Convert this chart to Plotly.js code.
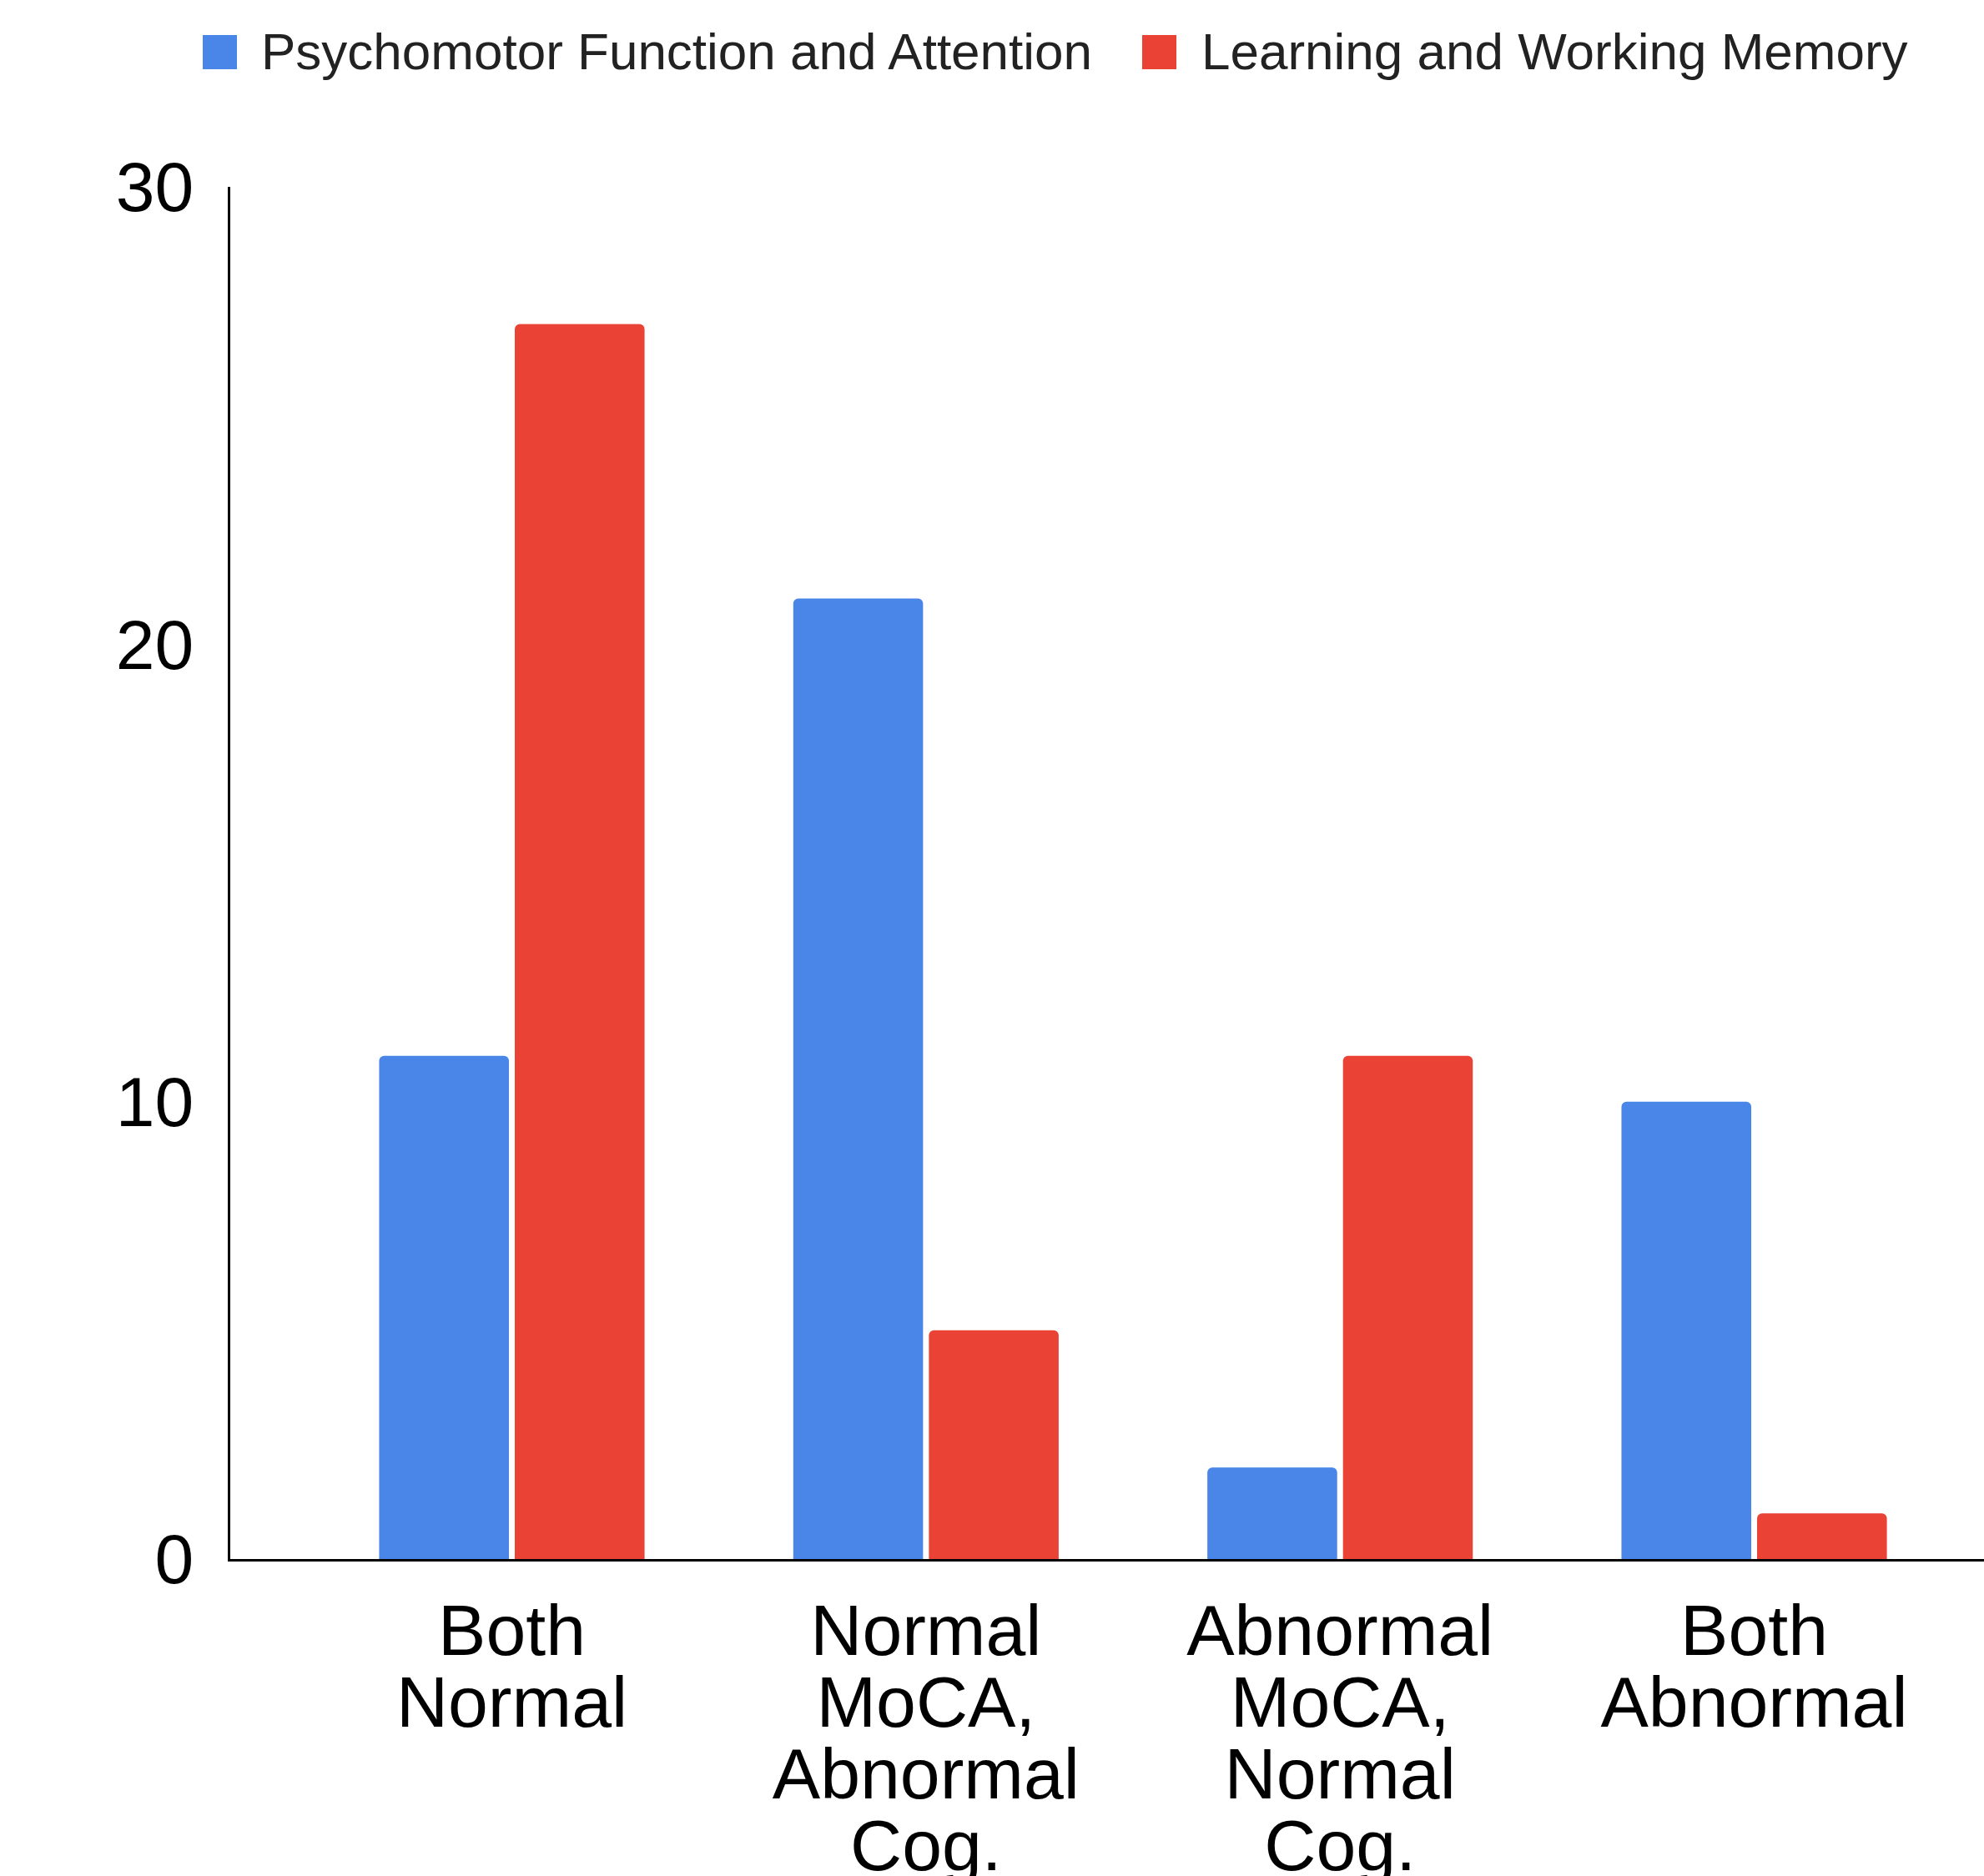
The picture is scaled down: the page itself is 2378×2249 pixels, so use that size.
<!DOCTYPE html>
<html>
<head>
<meta charset="utf-8">
<script src="https://cdn.plot.ly/plotly-3.0.1.min.js"></script>
<style>
  html, body { margin: 0; padding: 0; background: #ffffff; overflow: hidden; }
  #chart { width: 2378px; height: 2249px; }
</style>
</head>
<body>
<div id="chart"></div>
<script>
// ---- data ----
const categories = ["Both Normal", "Normal MoCA, Abnormal Cog.", "Abnormal MoCA, Normal Cog.", "Both Abnormal"];
const categoryLabels = [
  "Both<br>Normal",
  "Normal<br>MoCA,<br>Abnormal<br>Cog.",
  "Abnormal<br>MoCA,<br>Normal<br>Cog.",
  "Both<br>Abnormal"
];
const seriesNames = ["Psychomotor Function and Attention", "Learning and Working Memory"];
const psychomotorValues = [11, 21, 2, 10];
const learningValues = [27, 5, 11, 1];
const yTickValues = [0, 10, 20, 30];
const yTickLabels = ["0", "10", "20", "30"];

// ---- styling ----
const W = 2378, H = 2249;
const M = { l: 276, r: 0, t: 224, b: 380 };
const colors = ["#4a86e8", "#ea4335"];
const FONT = '"Liberation Sans", Arial, Helvetica, sans-serif';

const plotW = W - M.l - M.r, plotH = H - M.t - M.b;
const pxX = p => (p - M.l) / plotW;
const pxY = p => (H - M.b - p) / plotH;

const traces = [
  { type: "bar", name: seriesNames[0], x: categories, y: psychomotorValues,
    marker: { color: colors[0], cornerradius: 6 }, hoverinfo: "x+y+name" },
  { type: "bar", name: seriesNames[1], x: categories, y: learningValues,
    marker: { color: colors[1], cornerradius: 6 }, hoverinfo: "x+y+name" }
];

const annotations = [];
// legend (drawn manually for large swatches)
const legendItems = [
  { sq: 243, tx: 311 },
  { sq: 1369, tx: 1438 }
];
const shapes = [];
legendItems.forEach((it, k) => {
  shapes.push({
    type: "rect", xref: "paper", yref: "paper",
    x0: pxX(it.sq), x1: pxX(it.sq + 41), y0: pxY(83), y1: pxY(42),
    fillcolor: colors[k], line: { width: 0 }
  });
  annotations.push({
    xref: "paper", yref: "paper", x: pxX(it.tx), y: pxY(62),
    text: seriesNames[k], showarrow: false, xanchor: "left", yanchor: "middle",
    font: { family: FONT, size: 62, color: "#222222" }
  });
});

const layout = {
  width: W, height: H,
  margin: M,
  paper_bgcolor: "#ffffff", plot_bgcolor: "#ffffff",
  showlegend: false,
  barmode: "group",
  bargap: 0.345,
  bargroupgap: 0.043,
  font: { family: FONT, size: 84, color: "#000000" },
  xaxis: {
    type: "category",
    range: [-0.68, 3.555],
    tickmode: "array", tickvals: categories, ticktext: categoryLabels,
    tickfont: { family: FONT, size: 86, color: "#000000" },
    tickangle: 0,
    ticks: "", ticklabelstandoff: 9,
    showgrid: false,
    zeroline: false,
    showline: true, linecolor: "#000000", linewidth: 3,
    automargin: false,
    fixedrange: true
  },
  yaxis: {
    range: [0, 30],
    tickmode: "array", tickvals: yTickValues, ticktext: yTickLabels,
    tickfont: { family: FONT, size: 84, color: "#000000" },
    ticks: "", ticklabelstandoff: 24,
    showgrid: false, zeroline: false,
    showline: true, linecolor: "#000000", linewidth: 3,
    automargin: false,
    fixedrange: true
  },
  shapes: shapes,
  annotations: annotations
};

Plotly.newPlot("chart", traces, layout, { displayModeBar: false, staticPlot: true }).then(gd => {
  // tighten multi-line category label spacing to match the reference (~1.0em instead of 1.3em)
  gd.querySelectorAll(".xtick text tspan.line").forEach(t => {
    const dy = parseFloat(t.getAttribute("dy"));
    if (dy > 0) t.setAttribute("dy", (dy / 1.3) + "em");
  });
});
</script>
</body>
</html>
